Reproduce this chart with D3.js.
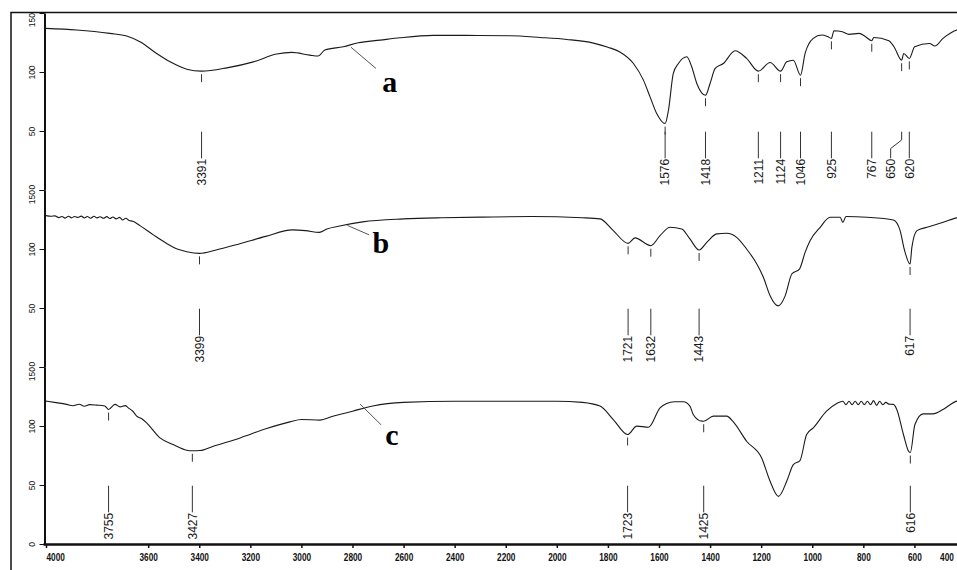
<!DOCTYPE html>
<html>
<head>
<meta charset="utf-8">
<script src="https://cdn.jsdelivr.net/npm/d3@7/dist/d3.min.js"></script>
<style>
  body { margin: 0; background: #fff; }
  svg { display: block; font-family: "Liberation Sans", Arial, sans-serif; }
</style>
</head>
<body>
<div id="grafica"></div>
<script>

const nombres = ["a", "b", "c"];

const wnA = [4000, 3880, 3750, 3684, 3632, 3567, 3514, 3449, 3391, 3292, 3188, 3097, 3038, 2967, 2935, 2908, 2836, 2777, 2692, 2614, 2484, 2353, 2183, 2066, 1961, 1857, 1800, 1753, 1700, 1661, 1635, 1609, 1576, 1563, 1544, 1524, 1491, 1472, 1452, 1418, 1400, 1380, 1348, 1302, 1257, 1211, 1165, 1124, 1100, 1074, 1046, 1028, 996, 963, 940, 925, 915, 882, 856, 817, 791, 767, 759, 700, 680, 650, 642, 620, 599, 541, 520, 488, 434, 400];
const tA  = [137, 135.6, 132.7, 130.5, 125.6, 115.7, 108.6, 102.4, 100.7, 103.5, 108.6, 115.2, 116.6, 114.3, 113.5, 118.6, 121.4, 124.8, 127, 129, 131, 131, 130.7, 129.3, 127.6, 124.5, 121, 117, 107.2, 93.1, 78.9, 64.8, 56.3, 67.6, 98.8, 107.2, 112.9, 104.4, 90.3, 80.3, 90.3, 103, 107.2, 118, 111.5, 100.7, 108.1, 100.7, 108.6, 110, 97.3, 115.7, 128.5, 131.3, 130, 128.5, 135, 134.1, 131.9, 132.7, 129.9, 126.5, 129.3, 126.5, 121.4, 110, 115.7, 111.5, 121.4, 124.2, 122, 128.5, 135.6, 137];

const wnB = [4000, 3980, 3965, 3950, 3938, 3925, 3912, 3900, 3888, 3875, 3862, 3850, 3838, 3825, 3812, 3800, 3788, 3775, 3762, 3750, 3738, 3725, 3712, 3700, 3688, 3675, 3660, 3632, 3580, 3530, 3480, 3449, 3399, 3334, 3244, 3140, 3036, 2984, 2930, 2900, 2850, 2760, 2600, 2450, 2300, 2100, 1900, 1831, 1779, 1721, 1694, 1632, 1596, 1557, 1511, 1479, 1443, 1413, 1374, 1335, 1296, 1257, 1217, 1191, 1165, 1134, 1106, 1080, 1050, 1028, 1008, 969, 930, 891, 880, 868, 786, 682, 656, 640, 617, 610, 590, 551, 487, 434, 400];
const tB  = [128.3, 127.8, 128.1, 126.6, 127.6, 126.2, 127.8, 126.4, 127.6, 126.7, 127.9, 126.3, 127.5, 126.1, 127.7, 126.4, 127.3, 126, 127.4, 125.8, 127.1, 125.5, 126.8, 124.6, 126, 124.2, 123.5, 119.8, 112, 105, 99.5, 97.7, 96.3, 99.2, 104.3, 110.7, 116.2, 115.6, 114.1, 117, 119.5, 123, 125.5, 126.5, 127, 127.5, 126.5, 125.5, 115.6, 104.8, 109.4, 102.8, 111.3, 118.4, 117, 108.5, 99.2, 105.6, 112.8, 113.3, 109.9, 100, 87.3, 75.9, 60.3, 51.8, 60.3, 78.8, 83, 97.1, 107.1, 118.4, 126.9, 126.9, 122.6, 127.5, 126.9, 124.6, 115.6, 100, 87.3, 101.4, 115.6, 118.4, 122.6, 126.4, 127];

const wnC = [4000, 3960, 3919, 3895, 3870, 3850, 3830, 3801, 3770, 3755, 3730, 3710, 3690, 3678, 3660, 3645, 3625, 3606, 3554, 3502, 3449, 3427, 3397, 3345, 3240, 3136, 3045, 3000, 2927, 2880, 2800, 2720, 2600, 2400, 2200, 2000, 1900, 1831, 1779, 1723, 1687, 1641, 1596, 1570, 1540, 1505, 1479, 1466, 1433, 1425, 1387, 1335, 1309, 1257, 1198, 1165, 1132, 1100, 1074, 1048, 1022, 996, 944, 904, 880, 868, 856, 844, 832, 820, 808, 796, 784, 772, 760, 748, 736, 724, 712, 700, 682, 669, 643, 621, 616, 598, 566, 527, 488, 434, 400];
const tC  = [121.1, 119.8, 118.3, 117.2, 118.4, 116.8, 118.1, 117.7, 117, 114, 118.3, 116.2, 117.3, 115.4, 112.5, 108.4, 106.2, 102.7, 89.9, 84.3, 79.5, 79, 79.2, 82.9, 89.9, 97.9, 103.5, 105.5, 105, 108, 112.5, 117, 120, 121, 121, 121, 120, 116.9, 105.5, 92.8, 99.9, 99, 115.4, 119.1, 120.5, 120.5, 116.9, 109.8, 104.1, 104, 108.4, 108.4, 103.5, 87.1, 72.9, 53.1, 40.4, 53.1, 67.3, 70.7, 92.8, 98.4, 112.6, 119.1, 121, 118, 121, 118, 121, 118, 121, 118, 121, 118, 121.5, 117.5, 121, 118, 120, 118.5, 118.3, 114, 92.8, 78, 77.5, 101.3, 110.3, 110.3, 114, 121.1, 122];

// picos marcados en cada espectro
const picosA = [3391, 1576, 1418, 1211, 1124, 1046, 925, 767, 650, 620];
const picosB = [3399, 1721, 1632, 1443, 617];
const picosC = [3755, 3427, 1723, 1425, 616];
// etiqueta desplazada (pico -> posición del texto en cm-1)
const desplazadosA = { 650: 693 };

// marcas de los ejes
const ticksX = [4000, 3600, 3400, 3200, 3000, 2800, 2600, 2400, 2200, 2000, 1800, 1600, 1400, 1200, 1000, 800, 600, 400];
const ticksY = [0, 50, 100, 150];

// --- LIENZO ---
const ancho = 957, alto = 570;
const svg = d3.select("#grafica").append("svg")
  .attr("width", ancho)
  .attr("height", alto);

// marco exterior (solo izquierda y arriba, la imagen está recortada)
svg.append("path")
  .attr("d", "M11,570 L11,12.5 L957,12.5")
  .attr("fill", "none")
  .attr("stroke", "#111")
  .attr("stroke-width", 1.5);

const ejeX = 44.5;
const arribaPanel = 13, altoPanel = 177;
const x = d3.scaleLinear().domain([4000, 400]).range([46, 965.5]);

const paneles = [
  { nombre: nombres[0], wn: wnA, t: tA, picos: picosA, desp: desplazadosA },
  { nombre: nombres[1], wn: wnB, t: tB, picos: picosB, desp: {} },
  { nombre: nombres[2], wn: wnC, t: tC, picos: picosC, desp: {} }
];

// interpolación lineal de la transmitancia en un número de onda
function valorEn(w, ws, ts) {
  for (let i = 0; i < ws.length - 1; i++) {
    if (ws[i] >= w && w >= ws[i + 1]) {
      const f = (ws[i] - w) / (ws[i] - ws[i + 1]);
      return ts[i] + f * (ts[i + 1] - ts[i]);
    }
  }
  return ts[ts.length - 1];
}

// posiciones de las letras a, b, c (en unidades de datos: cm-1 y %T)
const letras = [
  { desde: [2806, 121], hasta: [2708, 103], texto: [2684, 83] },
  { desde: [2820, 120], hasta: [2735, 112], texto: [2722, 97] },
  { desde: [2770, 118.5], hasta: [2688, 101], texto: [2672, 84] }
];

paneles.forEach((p, i) => {
  const top = arribaPanel + i * altoPanel;
  const y = d3.scaleLinear().domain([0, 150]).range([top + altoPanel, top]);

  // eje Y de cada panel
  const gy = svg.append("g")
    .attr("transform", `translate(${ejeX},0)`)
    .call(d3.axisLeft(y).tickValues(ticksY).tickSize(5).tickSizeOuter(0));
  gy.select(".domain").attr("stroke", "#111").attr("stroke-width", 2);
  gy.selectAll(".tick line").attr("stroke", "#111");
  gy.selectAll(".tick text")
    .attr("transform", "rotate(-90)")
    .attr("y", -12.5)
    .attr("dy", "0.35em")
    .attr("x", d => d === 150 ? 0.5 : (d === 0 && i < 2 ? 1 : 0))
    .attr("text-anchor", d => d === 150 ? "end" : (d === 0 && i < 2 ? "start" : "middle"))
    .style("font-size", "8.5px")
    .style("font-family", "'Liberation Sans', Arial, sans-serif")
    .attr("fill", "#111");

  // espectro
  const linea = d3.line()
    .x(d => x(d[0]))
    .y(d => y(d[1]))
    .curve(d3.curveMonotoneX);
  svg.append("path")
    .datum(p.wn.map((w, k) => [w, p.t[k]]))
    .attr("d", linea)
    .attr("fill", "none")
    .attr("stroke", "#1a1a1a")
    .attr("stroke-width", 1.1);

  // picos: marca corta bajo el mínimo, línea guía y número
  const g = svg.append("g");
  p.picos.forEach(pk => {
    const xp = x(pk);
    const yv = y(valorEn(pk, p.wn, p.t));
    g.append("line")
      .attr("x1", xp).attr("x2", xp)
      .attr("y1", yv + 3).attr("y2", yv + 11)
      .attr("stroke", "#333").attr("stroke-width", 1);

    const xt = p.desp[pk] !== undefined ? x(p.desp[pk]) : xp;
    const y0 = top + 118.7, y1 = top + 145.3;
    const guia = xt === xp
      ? `M${xp},${y0}V${y1}`
      : `M${xp},${y0}V${top + 127}L${xt},${top + 135.5}V${y1}`;
    g.append("path")
      .attr("d", guia)
      .attr("fill", "none")
      .attr("stroke", "#333").attr("stroke-width", 1);

    g.append("text")
      .attr("transform", `translate(${xt},${y1 + 0.5}) rotate(-90)`)
      .attr("dy", "0.36em")
      .attr("text-anchor", "end")
      .style("font-size", "12px")
      .attr("fill", "#1a1a1a")
      .text(pk);
  });

  // letra del espectro con su línea
  const L = letras[i];
  svg.append("line")
    .attr("x1", x(L.desde[0])).attr("y1", y(L.desde[1]))
    .attr("x2", x(L.hasta[0])).attr("y2", y(L.hasta[1]))
    .attr("stroke", "#555").attr("stroke-width", 1);
  svg.append("text")
    .attr("x", x(L.texto[0])).attr("y", y(L.texto[1]))
    .style("font-family", "'Liberation Serif', 'Times New Roman', serif")
    .style("font-weight", "bold")
    .style("font-size", "30px")
    .attr("fill", "#000")
    .text(p.nombre);
});

// eje X
const gx = svg.append("g")
  .attr("transform", `translate(0,${arribaPanel + 3 * altoPanel})`)
  .call(d3.axisBottom(x).tickValues(ticksX).tickSize(4).tickSizeOuter(0)
    .tickFormat(d3.format("d")));
gx.select(".domain")
  .attr("d", `M${ejeX - 1},0.5H${ancho}`)
  .attr("stroke", "#111").attr("stroke-width", 2.5);
gx.selectAll(".tick line").attr("stroke", "#111").attr("stroke-width", 1.5);
gx.selectAll(".tick text")
  .attr("y", 9.5)
  .attr("dy", "0.71em")
  .attr("x", d => d === 400 ? -19 : 0)
  .attr("text-anchor", d => d === 4000 ? "start" : "middle")
  .attr("textLength", d => String(d).length * 4.6)
  .attr("lengthAdjust", "spacingAndGlyphs")
  .style("font-size", "11px")
  .style("font-weight", "bold")
  .style("font-family", "'Liberation Sans', Arial, sans-serif")
  .attr("fill", "#111");
</script>
</body>
</html>
